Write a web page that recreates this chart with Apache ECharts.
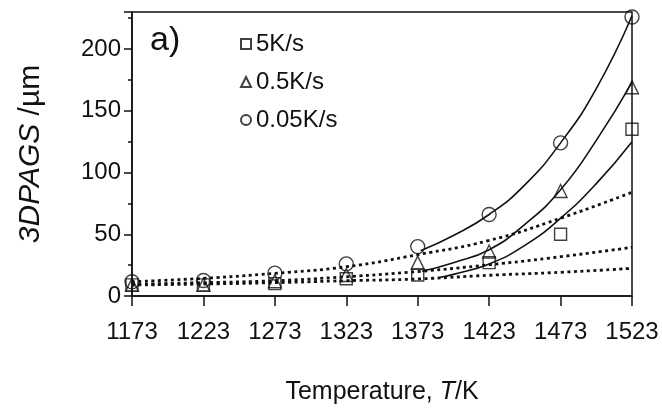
<!DOCTYPE html>
<html>
<head>
<meta charset="utf-8">
<script src="https://cdn.jsdelivr.net/npm/echarts@6/dist/echarts.min.js"></script>
<style>
html,body{margin:0;padding:0;background:#fff;}
#chart{width:662px;height:416px;}
</style>
</head>
<body>
<div id="chart"></div>
<script>
// ---- data ----
var T0 = 1173;
var temps = [1173, 1223, 1273, 1323, 1373, 1423, 1473, 1523];
var xTickLabels = ['1173', '1223', '1273', '1323', '1373', '1423', '1473', '1523'];
var yTickLabels = [0, 50, 100, 150, 200];

var sq5  = [9, 9, 10, 14, 17, 27, 50, 135];       // 5K/s (squares)
var tri05 = [9, 9, 12, 17, 27, 36, 85, 169];       // 0.5K/s (triangles)
var cir005 = [11.5, 12.5, 18.5, 26, 40, 66, 124, 226]; // 0.05K/s (circles)

// solid fitted curves (read at sample temperatures)
var fitCirT = [1375, 1398, 1423, 1448, 1473, 1498, 1523];
var fitCirV = [36.7, 49, 66, 90, 124, 168, 227];
var fitTriT = [1376, 1398, 1423, 1448, 1473, 1498, 1523];
var fitTriV = [20, 27, 37.5, 58, 86, 126, 173];
var fitSqT  = [1388, 1398, 1423, 1448, 1473, 1498, 1523];
var fitSqV  = [15, 17.5, 26, 41, 63, 91, 125];

// dotted model lines
var dotTop = [11.6, 14.3, 18.4, 23.7, 33.5, 45, 63, 84];
var dotMid = [9.5, 10.8, 12.4, 15.6, 19.8, 25.3, 31.8, 39.4];
var dotBot = [8.9, 9.7, 10.8, 12.4, 13.8, 16.8, 19.2, 22.4];

// ---- build ----
function pts(ts, vs){ return ts.map(function(t,i){ return [t - T0, vs[i]]; }); }
var FONT = 'Liberation Sans, Arial, Helvetica, sans-serif';
var markerStyle = {color: 'rgba(0,0,0,0)', borderColor: '#111', borderWidth: 1.4};

function scatter(name, sym, size, vals){
  return {name: name, type: 'scatter', symbol: sym, symbolSize: size,
    itemStyle: markerStyle, data: pts(temps, vals), z: 5};
}
function solid(ts, vs){
  return {type: 'line', smooth: true, showSymbol: false, silent: true,
    lineStyle: {color: '#111', width: 1.6}, data: pts(ts, vs), z: 3};
}
function dotted(vs){
  return {type: 'line', smooth: true, showSymbol: false, silent: true,
    lineStyle: {color: '#111', width: 2.8, type: [3, 3.5]}, data: pts(temps, vs), z: 3};
}

var chart = echarts.init(document.getElementById('chart'), null, {renderer: 'canvas'});
chart.setOption({
  animation: false,
  backgroundColor: '#fff',
  textStyle: {fontFamily: FONT},
  grid: {left: 132, right: 30, top: 12, bottom: 120, show: true,
    borderColor: '#111', borderWidth: 1.5, backgroundColor: 'transparent'},
  legend: {
    data: ['5K/s', '0.5K/s', '0.05K/s'],
    orient: 'vertical', left: 235, top: 27,
    itemWidth: 10, itemHeight: 10, itemGap: 14, itemTextGap: 11,
    textStyle: {fontSize: 24, color: '#111', fontFamily: FONT},
    selectedMode: false
  },
  graphic: [{type: 'text', left: 150, top: 24,
    style: {text: 'a)', fontSize: 34, fill: '#111', fontFamily: FONT}}],
  xAxis: {
    type: 'value', min: 0, max: temps[temps.length-1] - T0, interval: 50,
    name: 'Temperature, {i|T}/K', nameLocation: 'middle', nameGap: 84,
    nameTextStyle: {fontSize: 25, color: '#111', fontFamily: FONT,
      rich: {i: {fontStyle: 'italic', fontSize: 25, color: '#111', fontFamily: FONT}}},
    axisLine: {lineStyle: {color: '#111', width: 1.5}},
    axisTick: {length: 10, lineStyle: {color: '#111', width: 1.5}},
    axisLabel: {fontSize: 24, color: '#111', margin: 24,
      formatter: function(v){ var i = temps.indexOf(v + T0); return i >= 0 ? xTickLabels[i] : ''; }},
    splitLine: {show: false}
  },
  yAxis: {
    type: 'value', min: 0, max: 230, interval: 50,
    name: '{i|3DPAGS} /µm', nameLocation: 'middle', nameGap: 86, nameRotate: 90,
    nameTextStyle: {fontSize: 30, color: '#111', fontFamily: FONT,
      rich: {i: {fontStyle: 'italic', fontSize: 30, color: '#111', fontFamily: FONT}}},
    axisLine: {lineStyle: {color: '#111', width: 1.5}},
    axisTick: {length: 8, lineStyle: {color: '#111', width: 1.5}},
    minorTick: {show: true, splitNumber: 2, length: 4, lineStyle: {color: '#111', width: 1.5}},
    axisLabel: {fontSize: 24, color: '#111', margin: 11, showMaxLabel: false,
      formatter: function(v){ return yTickLabels.indexOf(v) >= 0 ? String(v) : ''; }},
    splitLine: {show: false}
  },
  series: [
    dotted(dotTop), dotted(dotMid), dotted(dotBot),
    solid(fitCirT, fitCirV), solid(fitTriT, fitTriV), solid(fitSqT, fitSqV),
    scatter('5K/s', 'rect', 12, sq5),
    scatter('0.5K/s', 'triangle', 13, tri05),
    scatter('0.05K/s', 'circle', 14, cir005)
  ]
});
</script>
</body>
</html>
